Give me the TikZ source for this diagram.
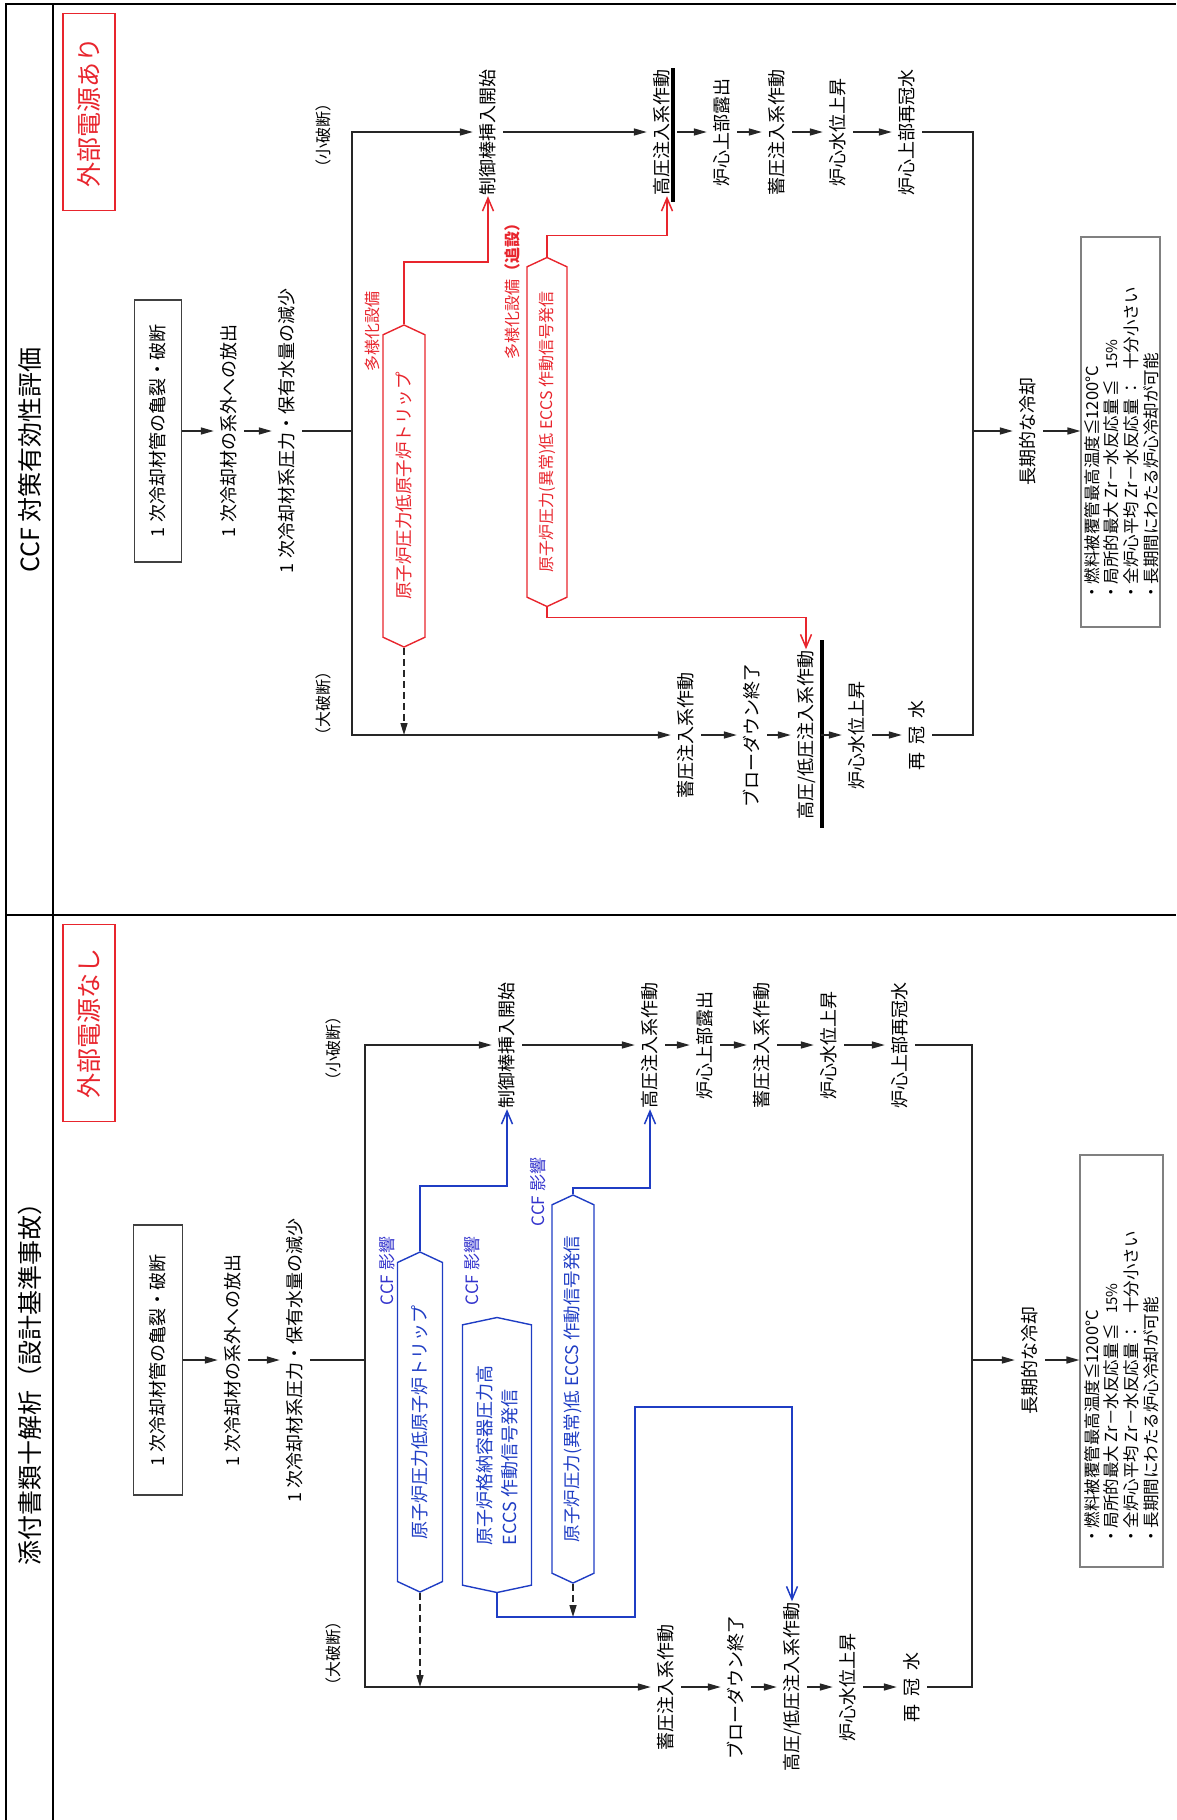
\documentclass[tikz,border=0pt]{standalone}
\usepackage{fontspec}
\setmainfont{Noto Sans CJK JP}
\usetikzlibrary{arrows.meta,shapes.symbols,calc}
\definecolor{rd}{HTML}{E8252D}
\definecolor{bl}{HTML}{1F3DC4}
\definecolor{ccf}{HTML}{3333CC}
\tikzset{
  lbl/.style={rotate=90, inner xsep=1pt, inner ysep=6pt, text height=15.8pt, text depth=2.2pt, font=\fontsize{18}{21}\selectfont},
  sml/.style={rotate=90, inner sep=1pt, font=\fontsize{16}{18}\selectfont},
  ttl/.style={rotate=90, inner sep=1pt, font=\fontsize{25}{28}\selectfont},
  pwr/.style={rotate=90, draw=rd, text=rd, line width=1.6pt, minimum width=197pt, minimum height=52pt, inner sep=2pt, font=\fontsize{25}{28}\selectfont},
  srcbox/.style={lbl, draw=black!75, line width=1.3pt},
  resbox/.style={draw=black!50, line width=1.1pt},
  restext/.style={rotate=90, anchor=north west, inner sep=0pt, font=\fontsize{16.5}{19}\selectfont},
  conn/.style={line width=1.5pt, draw=black!85},
  arr/.style={conn, -{Triangle[length=13pt,width=7pt]}},
  dsh/.style={conn, dash pattern=on 7pt off 4pt, -{Triangle[length=12pt,width=7pt]}},
  rarr/.style={line width=1.5pt, draw=rd, -{Straight Barb[length=13pt,width=11pt]}},
  barr/.style={line width=1.5pt, draw=bl, -{Straight Barb[length=13pt,width=11pt]}},
  sig/.style={rotate=90, signal, signal to=east and west, signal pointer angle=130, line width=1.4pt, inner sep=2pt, font=\fontsize{17.5}{20}\selectfont},
  rsig/.style={sig, draw=rd, text=rd},
  bsig/.style={sig, draw=bl, text=bl},
  rnote/.style={rotate=90, inner sep=1pt, text=rd, font=\fontsize{16}{18}\selectfont},
  bnote/.style={rotate=90, inner sep=1pt, text=ccf, font=\fontsize{17}{19}\selectfont},
  tbar/.style={line width=4pt},
  frm/.style={line width=2.6pt},
}
\begin{document}
\begin{tikzpicture}[x=1pt,y=-1pt]
\useasboundingbox (0,0) rectangle (1176,1820);
% frame
\draw[frm] (6,1820) -- (6,4) -- (1176,4);
\draw[frm] (53,4) -- (53,1820);
\draw[frm] (6,915) -- (1176,915);
\node[ttl] (title1) at (30,460) {CCF 対策有効性評価};
\node[ttl] (title2) at (30,1378) {添付書類十解析（設計基準事故）};

% ================= top panel =================
\node[pwr] (pw1) at (89,112) {外部電源あり};
\node[srcbox, minimum width=262pt, minimum height=47pt] (b1) at (158,431) {1 次冷却材管の亀裂・破断};
\node[lbl] (t2) at (229,431) {1 次冷却材の系外への放出};
\node[lbl] (t3) at (287,431) {1 次冷却材系圧力・保有水量の減少};
\coordinate (jT) at (352,431);
\node[sml] (sb1) at (323,135) {（小破断）};
\node[sml] (lb1) at (323,703) {（大破断）};
% top row
\node[lbl] (cr1) at (488,132) {制御棒挿入開始};
\node[lbl] (hp1) at (662,132) {高圧注入系作動};
\node[lbl] (ex1) at (722,132) {炉心上部露出};
\node[lbl] (acT) at (777,132) {蓄圧注入系作動};
\node[lbl] (lv1) at (838,132) {炉心水位上昇};
\node[lbl] (rf1) at (907,132) {炉心上部再冠水};
% bottom row
\node[lbl] (ac1) at (686,735) {蓄圧注入系作動};
\node[lbl] (bd1) at (752,735) {ブローダウン終了};
\node[lbl] (hl1) at (806,735) {高圧/低圧注入系作動};
\node[lbl] (lvB) at (857,735) {炉心水位上昇};
\node[lbl] (rfB) at (917,735) {再\hspace{8pt}冠\hspace{8pt}水};
\coordinate (jR1) at (973,431);
\node[lbl] (lt1) at (1028,431) {長期的な冷却};
\node[resbox, minimum width=79pt, minimum height=390pt] (res1) at (1120.5,432) {};
\node[restext] (res1t) at (1084,601) {\begin{tabular}{@{}l@{\hspace{3pt}}l@{\hspace{10pt}}l@{}}
\multicolumn{3}{@{}l@{}}{・燃料被覆管最高温度≦1200°C}\\
・局所的最大 Zr－水反応量 & ≦ & {\fontsize{15}{17}\selectfont 15\%}\\
・全炉心平均 Zr－水反応量 & ： & 十分小さい\\
\multicolumn{3}{@{}l@{}}{・長期間にわたる炉心冷却が可能}
\end{tabular}};
% red signals
\node[rsig, minimum width=322pt, minimum height=42pt] (s1) at (404,486) {原子炉圧力低原子炉トリップ};
\node[rsig, minimum width=349pt, minimum height=40pt, font=\fontsize{16}{18}\selectfont] (s2) at (547,432) {原子炉圧力(異常)低 ECCS 作動信号発信};
\node[rnote] (m1) at (372,331) {多様化設備};
\node[rnote] (m2) at (512,287) {多様化設備{\bfseries （追設）}};
% bars
\draw[tbar] ($(hp1.center)+(11,-64)$) -- ($(hp1.center)+(11,70)$);
\draw[tbar] ($(hl1.center)+(16,-95)$) -- ($(hl1.center)+(16,93)$);
% connectors
\draw[arr] (b1.south) -- (t2.north);
\draw[arr] (t2.south) -- (t3.north);
\draw[conn] (t3.south) -- (jT);
\draw[arr] (jT) |- (cr1.north);
\draw[arr] (jT) |- (ac1.north);
\draw[arr] (cr1.south) -- (hp1.north);
\draw[arr] (hp1.south) -- (ex1.north);
\draw[arr] (ex1.south) -- (acT.north);
\draw[arr] (acT.south) -- (lv1.north);
\draw[arr] (lv1.south) -- (rf1.north);
\draw[conn] (rf1.south) -| (jR1);
\draw[arr] (ac1.south) -- (bd1.north);
\draw[arr] (bd1.south) -- (hl1.north);
\draw[arr] (hl1.south) -- (lvB.north);
\draw[arr] (lvB.south) -- (rfB.north);
\draw[conn] (rfB.south) -| (jR1);
\draw[arr] (jR1) -- (lt1.north);
\draw[arr] (lt1.south) -- (lt1.south -| res1.west);
\draw[rarr] (s1.east) -- ++(0,-62) -| (cr1.west);
\draw[rarr] (s2.east) -- ++(0,-21) -| ([xshift=5pt]hp1.west);
\draw[rarr] (s2.west) -- ++(0,10) -| (hl1.east);
\draw[dsh] (s1.west) -- (s1.west |- ac1.center);

% ================= bottom panel =================
\node[pwr] (pw2) at (89,1023) {外部電源なし};
\node[srcbox, minimum width=270pt, minimum height=49pt] (b2) at (158,1360) {1 次冷却材管の亀裂・破断};
\node[lbl] (t2b) at (233,1360) {1 次冷却材の系外への放出};
\node[lbl] (t3b) at (295,1360) {1 次冷却材系圧力・保有水量の減少};
\coordinate (jB) at (365,1360);
\node[sml] (sb2) at (333,1048) {（小破断）};
\node[sml] (lb2) at (333,1653) {（大破断）};
\node[lbl] (cr2) at (507,1045) {制御棒挿入開始};
\node[lbl] (hp2) at (650,1045) {高圧注入系作動};
\node[lbl] (ex2) at (705,1045) {炉心上部露出};
\node[lbl] (acT2) at (762,1045) {蓄圧注入系作動};
\node[lbl] (lv2) at (829,1045) {炉心水位上昇};
\node[lbl] (rf2) at (900,1045) {炉心上部再冠水};
\node[lbl] (ac2) at (666,1687) {蓄圧注入系作動};
\node[lbl] (bd2) at (736,1687) {ブローダウン終了};
\node[lbl] (hl2) at (792,1687) {高圧/低圧注入系作動};
\node[lbl] (lvB2) at (848,1687) {炉心水位上昇};
\node[lbl] (rfB2) at (912,1687) {再\hspace{8pt}冠\hspace{8pt}水};
\coordinate (jR2) at (972,1360);
\node[lbl] (lt2) at (1030,1360) {長期的な冷却};
\node[resbox, minimum width=83pt, minimum height=412pt] (res2) at (1121.5,1361) {};
\node[restext] (res2t) at (1084,1545) {\begin{tabular}{@{}l@{\hspace{3pt}}l@{\hspace{10pt}}l@{}}
\multicolumn{3}{@{}l@{}}{・燃料被覆管最高温度≦1200°C}\\
・局所的最大 Zr－水反応量 & ≦ & {\fontsize{15}{17}\selectfont 15\%}\\
・全炉心平均 Zr－水反応量 & ： & 十分小さい\\
\multicolumn{3}{@{}l@{}}{・長期間にわたる炉心冷却が可能}
\end{tabular}};
% blue signals
\node[bsig, minimum width=340pt, minimum height=45pt, font=\fontsize{18}{20}\selectfont] (sA) at (420,1422) {原子炉圧力低原子炉トリップ};
\node[bsig, minimum width=275pt, minimum height=69pt, signal pointer angle=156, align=left, font=\fontsize{18}{25}\selectfont] (sB) at (497,1455) {原子炉格納容器圧力高\\ECCS 作動信号発信};
\node[bsig, minimum width=388pt, minimum height=42pt, font=\fontsize{17.5}{20}\selectfont] (sC) at (573,1389) {原子炉圧力(異常)低 ECCS 作動信号発信};
\node[bnote] (c1) at (387,1271) {CCF 影響};
\node[bnote] (c2) at (472,1271) {CCF 影響};
\node[bnote] (c3) at (538,1192) {CCF 影響};
\coordinate (bB1) at (635,1617);
\coordinate (bB2) at (790,1407);
% connectors
\draw[arr] (b2.south) -- (t2b.north);
\draw[arr] (t2b.south) -- (t3b.north);
\draw[conn] (t3b.south) -- (jB);
\draw[arr] (jB) |- (cr2.north);
\draw[arr] (jB) |- (ac2.north);
\draw[arr] (cr2.south) -- (hp2.north);
\draw[arr] (hp2.south) -- (ex2.north);
\draw[arr] (ex2.south) -- (acT2.north);
\draw[arr] (acT2.south) -- (lv2.north);
\draw[arr] (lv2.south) -- (rf2.north);
\draw[conn] (rf2.south) -| (jR2);
\draw[arr] (ac2.south) -- (bd2.north);
\draw[arr] (bd2.south) -- (hl2.north);
\draw[arr] (hl2.south) -- (lvB2.north);
\draw[arr] (lvB2.south) -- (rfB2.north);
\draw[conn] (rfB2.south) -| (jR2);
\draw[arr] (jR2) -- (lt2.north);
\draw[arr] (lt2.south) -- (lt2.south -| res2.west);
\draw[barr] (sA.east) -- ++(0,-65) -| (cr2.west);
\draw[barr] (sC.east) -- ++(0,-6) -| (hp2.west);
\draw[barr] (sB.west) |- (bB1) |- (bB2) -| (hl2.east);
\draw[dsh] (sC.west) -- (sC.west |- bB1);
\draw[dsh] (sA.west) -- (sA.west |- ac2.center);
\end{tikzpicture}
\end{document}
